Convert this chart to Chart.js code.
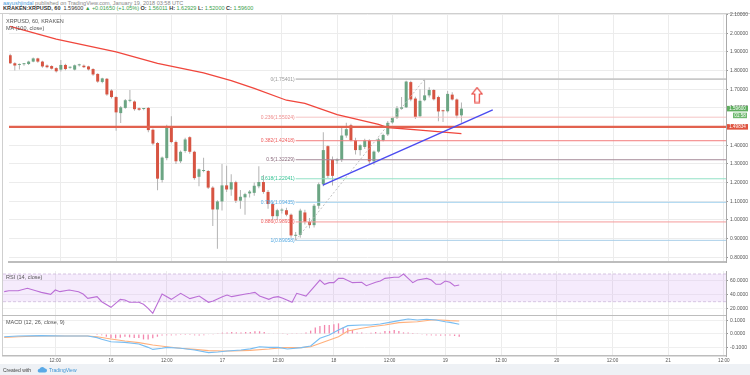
<!DOCTYPE html>
<html><head><meta charset="utf-8">
<script src="https://cdn.jsdelivr.net/npm/chart.js@4.4.1/dist/chart.umd.min.js"></script>
<style>
html,body{margin:0;padding:0;background:#fff;width:750px;height:375px;overflow:hidden;font-family:"Liberation Sans",Arial,sans-serif;}
.abs{position:absolute;}
.t{position:absolute;white-space:nowrap;transform:scale(0.5);transform-origin:0 0;font-size:11px;line-height:11px;}
canvas{position:absolute;}
</style></head>
<body>
<div class="t" style="left:3px;top:0px;color:#888;"><span style="color:#4a9ad8">aayushjindal</span> published on TradingView.com, January 19, 2018 03:58 UTC</div>
<div class="t" style="left:3px;top:5px;color:#333;"><b>KRAKEN:XRPUSD, 60</b>&nbsp; 1.59600 <span style="color:#3aa14a">▲</span> <span style="color:#3aa14a">+0.01650 (+1.05%)</span> <b>O:</b> <span style="color:#3aa14a">1.56011</span> <b>H:</b> <span style="color:#3aa14a">1.62929</span> <b>L:</b> <span style="color:#3aa14a">1.52000</span> <b>C:</b> <span style="color:#3aa14a">1.59600</span></div>
<div class="abs" style="left:0;top:13px;width:750px;height:1px;background:#cfcfcf"></div>
<div class="abs" style="left:2px;top:13px;width:1px;height:343px;background:#cfcfcf"></div>
<canvas id="main" width="750" height="266" style="left:0;top:5px;width:750px;height:266px"></canvas>
<canvas id="rsi" width="750" height="45" style="left:0;top:271px;width:750px;height:45px"></canvas>
<canvas id="macd" width="750" height="48" style="left:0;top:316px;width:750px;height:48px"></canvas>
<div class="t" style="left:6px;top:18px;color:#555;">XRPUSD, 60, KRAKEN</div>
<div class="t" style="left:6px;top:25px;color:#555;">MA (100, close)</div>
<div class="t" style="left:6px;top:274px;color:#555;">RSI (14, close)</div>
<div class="t" style="left:6px;top:319px;color:#555;">MACD (12, 26, close, 9)</div>
<div class="abs" style="left:0;top:364px;width:750px;height:11px;background:#eef1f5"></div>
<div class="t" style="left:3px;top:367px;color:#444;font-size:10px">Created with</div>
<svg class="abs" style="left:37px;top:366px" width="10" height="7" viewBox="0 0 10 7"><path d="M2 6.5 H8 A2 2 0 0 0 8 2.5 A3 3 0 0 0 2.6 2.8 A1.9 1.9 0 0 0 2 6.5Z" fill="#5aa9e6"/></svg>
<div class="t" style="left:49px;top:367px;color:#3e95d6;font-size:10px">TradingView</div>
<script>
// ---------- DATA ----------
const candleHours = [-23,-22,-21,-20,-19,-18,-17,-16,-15,-14,-13,-12,-11,-10,-9,-8,-7,-6,-5,-4,-3,-2,-1,0,1,2,3,4,5,6,7,8,9,10,11,12,13,14,15,16,17,18,19,20,21,22,23,24,25,26,27,28,29,30,31,32,33,34,35,36,37,38,39,40,41,42,43,44,45,46,47,48,49,50,51,52,53,54,55,56,57,58,59,60,61,62,63,64,65,66,67,68,69,70,71,72,73,74,75];
const opens = [1.882,1.839,1.830,1.834,1.835,1.848,1.865,1.848,1.827,1.824,1.813,1.805,1.830,1.815,1.805,1.828,1.826,1.822,1.808,1.782,1.739,1.756,1.693,1.658,1.572,1.600,1.638,1.634,1.598,1.594,1.600,1.483,1.412,1.214,1.331,1.500,1.417,1.314,1.369,1.443,1.365,1.231,1.262,1.262,1.173,1.056,1.099,1.185,1.163,1.202,1.103,1.121,1.142,1.145,1.180,1.203,1.150,1.085,1.020,1.050,1.052,1.028,0.915,0.920,1.040,0.990,0.972,1.076,1.191,1.395,1.322,1.318,1.322,1.452,1.507,1.426,1.374,1.391,1.426,1.314,1.366,1.426,1.458,1.522,1.546,1.595,1.603,1.738,1.650,1.555,1.641,1.667,1.696,1.658,1.586,1.582,1.671,1.645,1.56011];
const highs = [1.890,1.845,1.838,1.840,1.852,1.870,1.868,1.852,1.832,1.828,1.818,1.856,1.836,1.822,1.832,1.836,1.832,1.826,1.812,1.786,1.762,1.760,1.700,1.662,1.610,1.648,1.696,1.640,1.602,1.600,1.605,1.490,1.418,1.340,1.510,1.555,1.425,1.372,1.440,1.448,1.370,1.275,1.333,1.268,1.180,1.105,1.300,1.290,1.245,1.210,1.160,1.145,1.160,1.200,1.288,1.240,1.160,1.095,1.060,1.062,1.065,1.035,0.935,1.060,1.055,1.010,1.085,1.200,1.469,1.400,1.340,1.330,1.503,1.520,1.515,1.440,1.405,1.435,1.432,1.372,1.440,1.462,1.530,1.552,1.610,1.658,1.745,1.745,1.660,1.700,1.75401,1.710,1.700,1.665,1.590,1.690,1.684,1.650,1.62929];
const lows = [1.835,1.800,1.805,1.826,1.830,1.845,1.842,1.815,1.812,1.805,1.790,1.795,1.802,1.810,1.800,1.822,1.814,1.800,1.772,1.735,1.732,1.665,1.650,1.478,1.519,1.595,1.630,1.585,1.585,1.588,1.470,1.400,1.159,1.200,1.320,1.410,1.300,1.305,1.360,1.355,1.215,1.180,1.255,1.165,0.968,0.845,1.050,1.150,1.130,1.090,1.060,1.028,1.120,1.130,1.170,1.140,1.060,1.000,1.000,1.035,1.020,0.905,0.89058,0.905,0.975,0.955,0.960,1.060,1.180,1.225,1.185,1.300,1.310,1.440,1.420,1.350,1.345,1.380,1.300,1.295,1.360,1.420,1.450,1.515,1.540,1.590,1.600,1.635,1.540,1.550,1.635,1.655,1.640,1.529,1.525,1.575,1.640,1.545,1.520];
const closes = [1.839,1.827,1.834,1.835,1.848,1.865,1.848,1.822,1.818,1.810,1.796,1.830,1.808,1.818,1.828,1.830,1.818,1.806,1.779,1.741,1.758,1.672,1.658,1.576,1.603,1.641,1.640,1.593,1.590,1.596,1.481,1.409,1.221,1.334,1.500,1.417,1.314,1.365,1.431,1.365,1.224,1.271,1.264,1.173,1.056,1.099,1.185,1.163,1.202,1.103,1.124,1.138,1.152,1.183,1.203,1.150,1.085,1.020,1.052,1.052,1.028,0.917,0.920,1.050,0.990,0.972,1.076,1.191,1.374,1.236,1.236,1.320,1.452,1.486,1.426,1.374,1.400,1.426,1.314,1.366,1.431,1.455,1.520,1.546,1.598,1.603,1.741,1.645,1.551,1.638,1.667,1.696,1.646,1.581,1.582,1.675,1.645,1.559,1.596];

const maHours = [-23,-13,0,9,19,25,30,37,41,48,51,57,59,66,75];
const maValues = [2.037,1.968,1.900,1.839,1.788,1.746,1.705,1.641,1.624,1.564,1.546,1.512,1.495,1.481,1.462];

const fibLevels = [0,0.236,0.382,0.5,0.618,0.786,0.886,1];
const fibPrices = [1.75401,1.55024,1.42418,1.32229,1.22041,1.09435,0.98930,0.89058];
const fibAnchorHours = [39,67];          // low anchor, high anchor
const fibAnchorPrices = [0.89058,1.75401];
const trendHours = [44.9,81.8];
const trendPrices = [1.186,1.589];
const supportLevel = 1.49834;
const lastPrice = 1.59600;
const countdownText = '01:58';
const arrowHour = [78.4];
const arrowPrice = [1.669];

const rsiHours = [-23,-22,-20,-18,-16,-15,-13,-12,-11,-9,-7,-6,-5,-3,-2,0,1,2,3,4,6,7,8,9,11,13,15,17,19,21,22,24,25,26,29,30,31,32,34,35,36,37,39,40,42,45,46,47,48,49,50,52,54,55,57,58,59,61,62,63,64,65,66,68,69,70,71,72,73,74,75];
const rsiValues = [44.5,45.9,45.9,49.3,45.4,43.5,40.6,46.9,44.5,46.9,44.5,41.1,34.9,37.3,30.0,21.9,27.6,33.4,32.5,29.1,29.1,26.2,20.4,13.2,41.1,33.4,42.1,34.4,38.2,29.1,31.0,37.3,39.7,37.3,41.1,42.1,43.5,38.2,33.4,36.3,37.3,34.9,29.1,42.1,38.2,61.3,55.1,57.5,57.5,63.7,63.7,57.5,58.0,53.1,58.0,59.9,63.7,65.2,65.2,70.0,63.7,57.5,61.3,63.7,61.3,55.1,55.1,59.9,58.0,52.7,54.1];
const rsiUpper = 70, rsiLower = 30;

const macdHours = [-23,-20,-15,-10,-5,-3,-2,0,3,6,8,9,11,12,15,18,21,23,25,28,30,32,34,36,38,41,43,45,47,49,51,54,56,58,60,62,64,66,68,70,72,73,75];
const macdValues = [-0.020,-0.015,-0.012,-0.015,-0.015,-0.027,-0.039,-0.057,-0.062,-0.074,-0.099,-0.114,-0.106,-0.099,-0.106,-0.119,-0.138,-0.133,-0.126,-0.119,-0.110,-0.094,-0.099,-0.099,-0.111,-0.101,-0.089,-0.032,-0.007,0.030,0.062,0.067,0.067,0.074,0.086,0.099,0.111,0.104,0.109,0.104,0.091,0.086,0.072];
const signalHours = [-23,-20,-15,-10,-5,-3,0,3,6,9,12,15,18,21,24,26,30,34,37,41,43,46,49,51,54,56,59,62,66,69,71,73,75];
const signalValues = [-0.025,-0.020,-0.015,-0.015,-0.015,-0.020,-0.037,-0.052,-0.064,-0.081,-0.094,-0.106,-0.114,-0.123,-0.126,-0.126,-0.121,-0.111,-0.101,-0.101,-0.094,-0.057,-0.020,0.022,0.042,0.054,0.067,0.084,0.091,0.104,0.104,0.099,0.096];
const histHours = [-3,-2,-1,0,1,2,3,4,5,6,7,8,9,10,11,12,13,14,15,16,17,18,19,20,21,22,23,24,25,26,27,28,29,30,31,32,33,34,35,36,37,38,39,40,41,42,43,44,45,46,47,48,49,50,51,52,53,54,55,56,57,58,59,60,61,62,63,64,65,66,67,68,69,70,71,72,73,74,75];
const histValues = [-0.007,-0.010,-0.020,-0.030,-0.032,-0.027,-0.020,-0.025,-0.030,-0.030,-0.040,-0.040,-0.032,-0.020,-0.012,-0.010,-0.010,-0.010,-0.007,-0.007,-0.007,-0.010,-0.012,-0.010,-0.005,-0.002,0.005,0.010,0.012,0.015,0.012,0.012,0.015,0.015,0.020,0.020,0.015,0.005,0.005,0.005,0.005,-0.007,0.002,0.005,0.005,0.012,0.025,0.049,0.059,0.067,0.067,0.072,0.079,0.049,0.042,0.030,0.012,0.012,0.005,0.010,0.015,0.010,0.022,0.022,0.030,0.022,0.012,0.012,0.007,0.002,-0.005,-0.010,-0.010,-0.012,-0.012,-0.012,-0.012,-0.015,-0.020];

const priceTicks = [0.8,0.9,1.0,1.1,1.2,1.3,1.4,1.5,1.6,1.7,1.8,1.9,2.0,2.1];
const rsiTicks = [20,40,60];
const macdTicks = [-0.1,0,0.1];
const xTickHours = [-12,0,12,24,36,48,60,72,84,96,108,120,132];
const xTickLabels = ['12:00','16','12:00','17','12:00','18','12:00','19','12:00','20','12:00','21','12:00'];

// ---------- RANGES (view window) ----------
const xMin = -23.26, xMax = 132.46;
const priceMin = 0.77467, priceMax = 2.10284;
const rsiMin = 9.35, rsiMax = 74.33;
const macdMin = -0.16296, macdMax = 0.13333;

// ---------- STYLE ----------
const FONT = '"Liberation Sans", Arial, sans-serif';
const UP = '#6ba583', DOWN = '#d75442', WICK = '#b3b3b3';
const GRID = '#ececec';
const fibLineColors = ['#c9c9c9','#f5c4c4','#f37d7d','#a58a98','#93e2c6','#a3d2ef','#f59b9b','#a9cfe9'];
const fibTextColors = ['#9a9a9a','#ef8c8c','#ee5c5c','#8a6a7c','#35c394','#55aae3','#ee5c5c','#55aae3'];
Chart.defaults.font.family = FONT;
Chart.defaults.animation = false;

function pts(xs, ys){ return xs.map((x,i)=>({x:x, y:ys[i]})); }
function fixY(s){ s.width = 24; s.paddingTop = 0; s.paddingBottom = 0; }
function fixX(h){ return s => { s.height = h; s.paddingLeft = 0; s.paddingRight = 0; }; }
const xTickBuild = s => { s.ticks = xTickHours.map(v=>({value:v})); };

// hollow arrow marker
const arrowImg = document.createElement('canvas');
arrowImg.width = 12; arrowImg.height = 17;
(function(){ const c = arrowImg.getContext('2d'); c.strokeStyle = '#e8413a'; c.lineWidth = 1.2;
  c.beginPath(); c.moveTo(6,1); c.lineTo(11,7.5); c.lineTo(8.3,7.5); c.lineTo(8.3,16); c.lineTo(3.7,16); c.lineTo(3.7,7.5); c.lineTo(1,7.5); c.closePath(); c.stroke(); })();

const overlay = {
  id: 'overlay',
  afterDatasetsDraw(chart){
    const {ctx, scales:{x, y}} = chart;
    ctx.save();
    ctx.font = '5px ' + FONT; ctx.textAlign = 'right'; ctx.textBaseline = 'middle';
    fibLevels.forEach((lv,i)=>{
      ctx.fillStyle = fibTextColors[i];
      ctx.fillText(lv + '(' + fibPrices[i].toFixed(5) + ')', x.getPixelForValue(fibAnchorHours[0]) - 1, y.getPixelForValue(fibPrices[i]));
    });
    ctx.restore();
  },
  afterDraw(chart){
    const {ctx, scales:{y}, chartArea} = chart;
    const left = chartArea.right + 1, w = 21, h = 5.5;
    ctx.save();
    ctx.font = '4.6px ' + FONT; ctx.textAlign = 'center'; ctx.textBaseline = 'middle';
    const box = (val, txt, bg, dy, bw, bx) => {
      const cy = y.getPixelForValue(val) + dy;
      ctx.fillStyle = bg; ctx.fillRect(bx, cy - h/2, bw, h);
      ctx.fillStyle = '#fff'; ctx.fillText(txt, bx + bw/2, cy + 0.3);
    };
    box(lastPrice, lastPrice.toFixed(5), '#5fae5f', 0, w, left);
    box(lastPrice, countdownText, '#6fb96f', 6.8, 14, left + 6);
    box(supportLevel, supportLevel.toFixed(5), '#e0533f', 0, w, left);
    ctx.restore();
  }
};

// ---------- MAIN PRICE PANE ----------
const lineDs = (data, color, width, extra) => Object.assign({type:'line', data, borderColor:color, borderWidth:width, pointRadius:0, tension:0, fill:false}, extra||{});
const mainDatasets = [
  {type:'bar', data: candleHours.map((h,i)=>({x:h, y:[lows[i], highs[i]]})), backgroundColor: WICK, grouped:false, maxBarThickness:1, minBarLength:1, order:10},
  {type:'bar', data: candleHours.map((h,i)=>({x:h, y:[opens[i], closes[i]]})), backgroundColor: candleHours.map((h,i)=> closes[i] >= opens[i] ? UP : DOWN), grouped:false, maxBarThickness:3, minBarLength:1, order:9},
  lineDs(pts(maHours, maValues), '#f0463c', 1.3, {order:5}),
  lineDs(pts([xMin,xMax],[supportLevel,supportLevel]), '#e2624f', 2.4, {order:4}),
  lineDs(pts(fibAnchorHours, fibAnchorPrices), '#b9b9b9', 0.9, {borderDash:[2,2], order:6}),
  lineDs(pts(trendHours, trendPrices), '#4b4bf0', 1.4, {order:2}),
  {type:'scatter', data: pts(arrowHour, arrowPrice), pointStyle: arrowImg, pointRadius: 8, order:1}
];
fibLevels.forEach((lv,i)=>{
  mainDatasets.push(lineDs(pts([fibAnchorHours[0], xMax],[fibPrices[i],fibPrices[i]]), fibLineColors[i], i===0?1.6:1, {order:7}));
});

new Chart(document.getElementById('main'), {
  type:'line',
  data:{datasets: mainDatasets},
  options:{responsive:false, events:[], layout:{padding:{top:9,left:3,right:0,bottom:0}},
    plugins:{legend:{display:false}, tooltip:{enabled:false}},
    scales:{
      x:{type:'linear', min:xMin, max:xMax, offset:false, afterBuildTicks:xTickBuild, afterFit:fixX(0),
         ticks:{display:false}, grid:{color:GRID, offset:false, drawTicks:false}, border:{display:true, color:'#bdbdbd', width:2}},
      y:{type:'linear', position:'right', min:priceMin, max:priceMax, beginAtZero:false,
         afterBuildTicks: s => { s.ticks = priceTicks.map(v=>({value:v})); }, afterFit: fixY,
         ticks:{font:{size:5}, color:'#555', padding:2, callback:v=>Number(v).toFixed(5)},
         grid:{color:GRID, tickLength:2, tickColor:'#999'}, border:{display:true, color:'#aaa', width:1}}
    }},
  plugins:[overlay]
});

// ---------- RSI PANE ----------
new Chart(document.getElementById('rsi'), {
  type:'line',
  data:{datasets:[
    lineDs(pts([xMin,xMax],[rsiUpper,rsiUpper]), '#cbb9da', 0.8, {borderDash:[3,2], order:3}),
    lineDs(pts([xMin,xMax],[rsiLower,rsiLower]), '#cbb9da', 0.8, {borderDash:[3,2], fill:'-1', backgroundColor:'rgba(178,98,230,0.13)', order:3}),
    lineDs(pts(rsiHours, rsiValues), '#bb6fd6', 1.1, {order:1})
  ]},
  options:{responsive:false, events:[], layout:{padding:{top:0,left:3,right:0,bottom:0}},
    plugins:{legend:{display:false}, tooltip:{enabled:false}},
    scales:{
      x:{type:'linear', min:xMin, max:xMax, offset:false, afterBuildTicks:xTickBuild, afterFit:fixX(0),
         ticks:{display:false}, grid:{color:GRID, drawTicks:false}, border:{display:true, color:'#bdbdbd', width:2}},
      y:{type:'linear', position:'right', min:rsiMin, max:rsiMax,
         afterBuildTicks: s => { s.ticks = rsiTicks.map(v=>({value:v})); }, afterFit: fixY,
         ticks:{font:{size:5}, color:'#555', padding:2, callback:v=>Number(v).toFixed(4)},
         grid:{color:'#f2f2f2', tickLength:2, tickColor:'#999'}, border:{display:true, color:'#aaa', width:1}}
    }}
});

// ---------- MACD PANE ----------
new Chart(document.getElementById('macd'), {
  type:'line',
  data:{datasets:[
    {type:'bar', data: pts(histHours, histValues), backgroundColor:'#f386ad', grouped:false, maxBarThickness:1.3, order:3},
    lineDs(pts(macdHours, macdValues), '#78bdf2', 1.1, {order:1}),
    lineDs(pts(signalHours, signalValues), '#ffb07c', 1.1, {order:2})
  ]},
  options:{responsive:false, events:[], layout:{padding:{top:0,left:3,right:0,bottom:0}},
    plugins:{legend:{display:false}, tooltip:{enabled:false}},
    scales:{
      x:{type:'linear', min:xMin, max:xMax, offset:false, afterBuildTicks:xTickBuild, afterFit:fixX(8),
         ticks:{display:true, autoSkip:false, maxRotation:0, font:{size:4.6}, color:'#555', padding:1.5,
                callback:(v)=>{ const k = xTickHours.indexOf(v); return k>=0 ? xTickLabels[k] : ''; }},
         grid:{color:GRID, offset:false, drawTicks:false}, border:{display:true, color:'#bdbdbd', width:1.5}},
      y:{type:'linear', position:'right', min:macdMin, max:macdMax,
         afterBuildTicks: s => { s.ticks = macdTicks.map(v=>({value:v})); }, afterFit: fixY,
         ticks:{font:{size:5}, color:'#555', padding:2, callback:v=>Number(v).toFixed(4)},
         grid:{color:'#efefef', tickLength:2, tickColor:'#999'}, border:{display:true, color:'#aaa', width:1}}
    }}
});
</script>
</body></html>
